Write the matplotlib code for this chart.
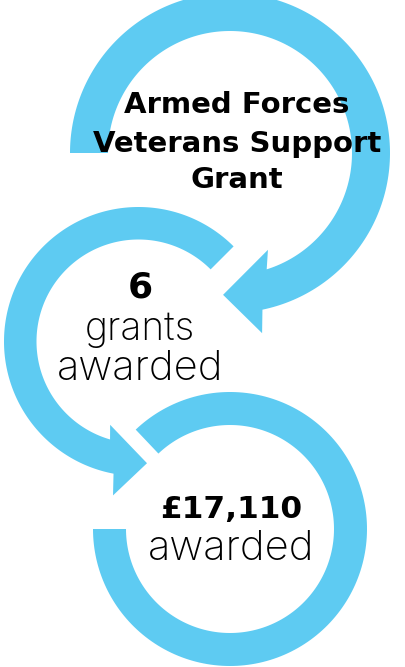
import numpy as np
import matplotlib
matplotlib.use("Agg")
import matplotlib.pyplot as plt
from matplotlib.patches import Polygon

# content
title_lines = ["Armed Forces", "Veterans Support", "Grant"]
grants_count = 6
grants_label = ["grants", "awarded"]
amount_awarded = 17110
amount_label = "awarded"

BLUE = "#5ecbf2"
W, H = 406, 667


def pt(c, ang, rad):
    a = np.radians(ang)
    return (c[0] + rad * np.cos(a), c[1] + rad * np.sin(a))


def ring_arrow(ax, c, R, r, start, end_in, end_out, barb_in=None, barb_out=None, tip=None):
    """arc ring from start to end (angles in degrees), optional arrowhead."""
    outer = [pt(c, a, R) for a in np.linspace(start, end_out, 200)]
    inner = [pt(c, a, r) for a in np.linspace(end_in, start, 200)]
    pts = outer
    if tip is not None:
        pts = pts + [pt(c, *barb_out), pt(c, *tip), pt(c, *barb_in)]
    pts = pts + inner
    ax.add_patch(Polygon(pts, closed=True, fc=BLUE, ec="none"))


fig = plt.figure(figsize=(W / 100, H / 100), dpi=100)
ax = fig.add_axes([0, 0, 1, 1])
ax.set_xlim(0, W)
ax.set_ylim(0, H)
ax.set_aspect("equal")
ax.axis("off")

# top ring, clockwise from the left, arrow into middle ring
c1 = (230, H - 153)
ring_arrow(ax, c1, 160, 122, 180, -72.5, -78.3,
           barb_in=(-68.6, 104), barb_out=(-79.9, 183), tip=(-92.8, 142))

# middle ring, anticlockwise, arrow into bottom ring
c2 = (138.5, H - 341.5)
ring_arrow(ax, c2, 134.5, 102, 45, 253.8, 259.3,
           barb_in=(251.2, 88), barb_out=(260.6, 156), tip=(274, 122))

# bottom ring, open on the upper left
c3 = (230, H - 529)
ring_arrow(ax, c3, 137, 104, 133.5, -180, -180)

font = "DejaVu Sans"
thin = "Inter"
for txt, yb in zip(title_lines, [113, 152, 188]):
    ax.text(237, H - yb, txt, ha="center", va="baseline", fontsize=21,
            fontweight="bold", family=font, color="black")

ax.text(140, H - 298, str(grants_count), ha="center", va="baseline",
        fontsize=26, fontweight="bold", family=font, color="black")
for txt, yb, fs in zip(grants_label, [340, 380], [28, 30]):
    ax.text(140, H - yb, txt, ha="center", va="baseline", fontsize=fs,
            fontweight="light", family=thin, color="black")

ax.text(231, H - 518, f"£{amount_awarded:,}", ha="center", va="baseline",
        fontsize=22.5, fontweight="bold", family=font, color="black")
ax.text(231, H - 560, amount_label, ha="center", va="baseline", fontsize=30,
        fontweight="light", family=thin, color="black")

fig.savefig("out.png", dpi=100, facecolor="white")
